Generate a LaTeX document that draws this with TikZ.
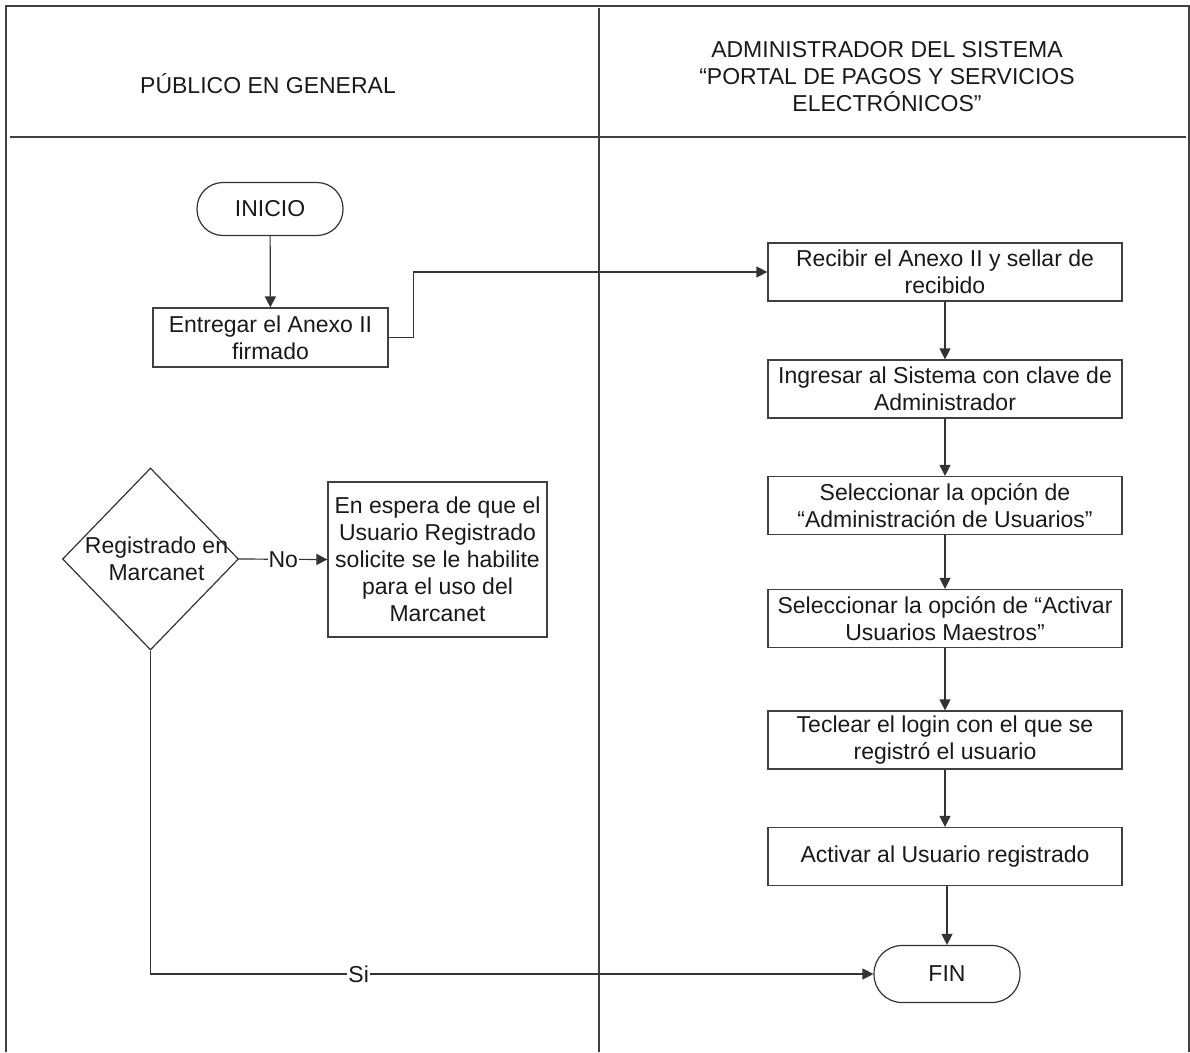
\documentclass[tikz,border=0pt]{standalone}
\usepackage{fontspec}
\setmainfont{Liberation Sans}
\usetikzlibrary{shapes.geometric,arrows.meta}
\begin{document}
\begin{tikzpicture}[x=1pt,y=-1pt,
  every node/.style={font=\fontsize{23}{27}\selectfont, text=black!90},
  frameline/.style={draw=black!75, line width=1.4pt},
  boxnode/.style={draw=black!75, line width=1.2pt, rectangle, align=center, inner sep=0pt},
  termnode/.style={draw=black!80, line width=1.2pt, rectangle, rounded corners=26pt, inner sep=0pt, minimum width=146pt, minimum height=53pt},
  decnode/.style={draw=black!80, line width=1.2pt, diamond, inner sep=0pt, minimum width=176pt, minimum height=182pt},
  flow/.style={draw=black!80, line width=1.2pt, -{Triangle[length=11pt,width=11pt]}},
  lbl/.style={fill=white, inner sep=1pt}
]
\useasboundingbox (0,0) rectangle (1190,1052);
% frame
\draw[frameline] (6,1052) -- (6,6) -- (1189,6) -- (1189,1052);
\draw[frameline] (10,137) -- (1186,137);
\draw[frameline] (599,8) -- (599,1052);
% headers
\node[align=center] (h1) at (268,84) {PÚBLICO EN GENERAL};
\node[align=center] (h2) at (887,77) {ADMINISTRADOR DEL SISTEMA\\“PORTAL DE PAGOS Y SERVICIOS\\ELECTRÓNICOS”};
% left lane
\node[termnode] (ini) at (270,209) {INICIO};
\node[boxnode, minimum width=235pt, minimum height=59pt] (ent) at (270.5,337.5) {Entregar el Anexo II\\firmado};
\node[decnode, label={[align=center, xshift=6pt]center:Registrado en\\Marcanet}] (dec) at (150.5,559) {};
\node[boxnode, minimum width=219pt, minimum height=155pt] (esp) at (437.5,559.5) {En espera de que el\\Usuario Registrado\\solicite se le habilite\\para el uso del\\Marcanet};
% right lane
\node[boxnode, minimum width=354pt, minimum height=58pt] (rec) at (945,272) {Recibir el Anexo II y sellar de\\recibido};
\node[boxnode, minimum width=354pt, minimum height=58pt] (ing) at (945,389) {Ingresar al Sistema con clave de\\Administrador};
\node[boxnode, minimum width=354pt, minimum height=58pt] (sel1) at (945,505.5) {Seleccionar la opción de\\“Administración de Usuarios”};
\node[boxnode, minimum width=354pt, minimum height=58pt] (sel2) at (945,618.5) {Seleccionar la opción de “Activar\\Usuarios Maestros”};
\node[boxnode, minimum width=354pt, minimum height=58pt] (tec) at (945,740) {Teclear el login con el que se\\registró el usuario};
\node[boxnode, minimum width=354pt, minimum height=58pt] (act) at (945,856.5) {Activar al Usuario registrado};
\node[termnode, minimum height=57pt, rounded corners=28pt] (fin) at (947,974) {FIN};
% connectors
\draw[flow] (ini) -- (ent);
\draw[flow] (ent.east) -- ++(25,0) |- (rec.west);
\draw[flow] (rec) -- (ing);
\draw[flow] (ing) -- (sel1);
\draw[flow] (sel1) -- (sel2);
\draw[flow] (sel2) -- (tec);
\draw[flow] (tec) -- (act);
\draw[flow] (act.south -| fin.north) -- (fin.north);
\draw[flow] (dec.east) -- node[lbl] {No} (esp.west);
\draw[flow] (dec.south) |- node[lbl, pos=0.644] {Si} (fin.west);
\end{tikzpicture}
\end{document}
